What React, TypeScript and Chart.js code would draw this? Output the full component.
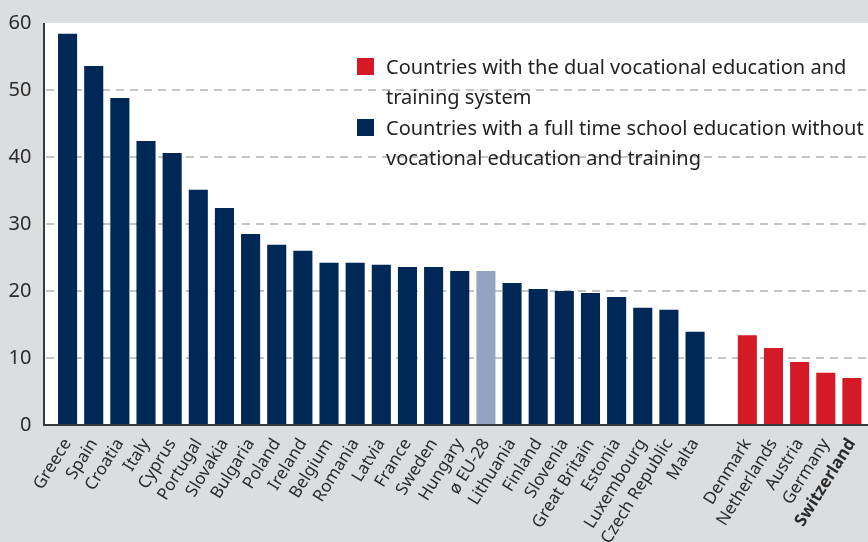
import React, { useEffect, useRef } from "react";
import { Chart, registerables } from "chart.js";

Chart.register(...registerables);

const categories = [
  "Greece", "Spain", "Croatia", "Italy", "Cyprus", "Portugal", "Slovakia", "Bulgaria",
  "Poland", "Ireland", "Belgium", "Romania", "Latvia", "France", "Sweden", "Hungary",
  "ø EU-28", "Lithuania", "Finland", "Slovenia", "Great Britain", "Estonia", "Luxembourg",
  "Czech Republic", "Malta", "", "Denmark", "Netherlands", "Austria", "Germany", "Switzerland",
];
const values = [
  58.4, 53.6, 48.8, 42.4, 40.6, 35.1, 32.4, 28.5,
  26.9, 26.0, 24.2, 24.2, 23.9, 23.6, 23.6, 23.0,
  23.0, 21.2, 20.3, 20.0, 19.7, 19.1, 17.5,
  17.2, 13.9, null, 13.4, 11.5, 9.4, 7.8, 7.0,
];
const groups = [
  "full", "full", "full", "full", "full", "full", "full", "full",
  "full", "full", "full", "full", "full", "full", "full", "full",
  "avg", "full", "full", "full", "full", "full", "full",
  "full", "full", "none", "dual", "dual", "dual", "dual", "dual",
];
const yTicks = [0, 10, 20, 30, 40, 50, 60];
const legendItems = [
  { group: "dual", lines: ["Countries with the dual vocational education and", "training system"] },
  { group: "full", lines: ["Countries with a full time school education without", "vocational education and training"] },
];

const COLORS: Record<string, string> = {
  full: "#002856",
  dual: "#d51a27",
  avg: "#93a4c2",
  none: "rgba(0,0,0,0)",
};
const FONT = "'Noto Sans', sans-serif";
const TEXT = "#2b2b2b";

const plotPlugin = {
  id: "plotBg",
  beforeDatasetsDraw(chart: any) {
    const { ctx, chartArea, scales } = chart;
    const y = scales.y;
    const left = chartArea.left - 10.5;
    const right = chart.width;
    const top = y.getPixelForValue(y.max);
    const bottom = y.getPixelForValue(y.min);
    ctx.save();
    ctx.fillStyle = "#ffffff";
    ctx.fillRect(left, top, right - left, bottom - top);
    ctx.strokeStyle = "#c4c4c4";
    ctx.lineWidth = 2;
    ctx.setLineDash([8, 6]);
    y.ticks.forEach((t: any) => {
      if (t.value === y.min || t.value === y.max) return;
      const py = Math.round(y.getPixelForValue(t.value));
      ctx.beginPath();
      ctx.moveTo(left + 2, py);
      ctx.lineTo(right, py);
      ctx.stroke();
    });
    ctx.restore();
  },
  afterDatasetsDraw(chart: any) {
    const { ctx, chartArea, scales } = chart;
    const y = scales.y;
    const left = chartArea.left - 10.5;
    const right = chart.width;
    const top = y.getPixelForValue(y.max);
    const bottom = y.getPixelForValue(y.min);
    ctx.save();
    ctx.strokeStyle = "#3a3a3a";
    ctx.lineWidth = 2;
    ctx.beginPath();
    ctx.moveTo(left, top);
    ctx.lineTo(left, bottom);
    ctx.lineTo(right, bottom);
    ctx.stroke();
    ctx.restore();
  },
};

export default function App() {
  const ref = useRef<HTMLCanvasElement | null>(null);

  useEffect(() => {
    document.body.style.margin = "0";
    document.body.style.background = "#dcdddf";
    if (!ref.current) return;
    const chart = new Chart(ref.current, {
      type: "bar",
      data: {
        labels: categories,
        datasets: [
          {
            data: values as any,
            backgroundColor: groups.map((g) => COLORS[g]),
            borderWidth: 0,
            categoryPercentage: 1,
            barPercentage: 0.73,
          },
        ],
      },
      options: {
        animation: false,
        responsive: false,
        devicePixelRatio: 1,
        layout: { padding: { top: 23, left: 0, right: 3, bottom: 0 } },
        plugins: { legend: { display: false }, tooltip: { enabled: false } },
        scales: {
          x: {
            grid: { display: false },
            border: { display: false },
            afterFit: (s: any) => {
              s.height = 117;
              s.paddingLeft = 0;
              s.paddingRight = 0;
            },
            ticks: {
              autoSkip: false,
              minRotation: 58,
              maxRotation: 58,
              padding: 2,
              color: TEXT,
              font: (c: any) => ({
                family: FONT,
                size: 17,
                weight: c.tick && c.tick.label === "Switzerland" ? "bold" : "normal",
              }),
            },
          },
          y: {
            min: 0,
            max: 60,
            afterFit: (s: any) => {
              s.width = 54.5;
              s.paddingTop = 12;
              s.paddingBottom = 12;
            },
            afterBuildTicks: (s: any) => {
              s.ticks = yTicks.map((v) => ({ value: v }));
            },
            grid: { display: false, drawTicks: false },
            border: { display: false },
            ticks: {
              padding: 23,
              color: TEXT,
              font: { family: FONT, size: 20 },
            },
          },
        },
      },
      plugins: [plotPlugin],
    });
    return () => chart.destroy();
  }, []);

  return (
    <div style={{ position: "relative", width: 868, height: 542, background: "#dcdddf", overflow: "hidden" }}>
      <canvas ref={ref} width={868} height={542} style={{ display: "block", width: 868, height: 542 }} />
      <div style={{ position: "absolute", left: 357, top: 52, fontFamily: FONT, fontSize: 20, color: "#222", lineHeight: "30px" }}>
        {legendItems.map((it) => (
          <div key={it.group} style={{ display: "flex", alignItems: "flex-start", marginBottom: 1 }}>
            <div style={{ width: 17, height: 17, marginTop: 6, background: COLORS[it.group], flex: "none" }} />
            <div style={{ marginLeft: 12, whiteSpace: "nowrap" }}>
              {it.lines.map((l, i) => (
                <div key={i}>{l}</div>
              ))}
            </div>
          </div>
        ))}
      </div>
    </div>
  );
}
